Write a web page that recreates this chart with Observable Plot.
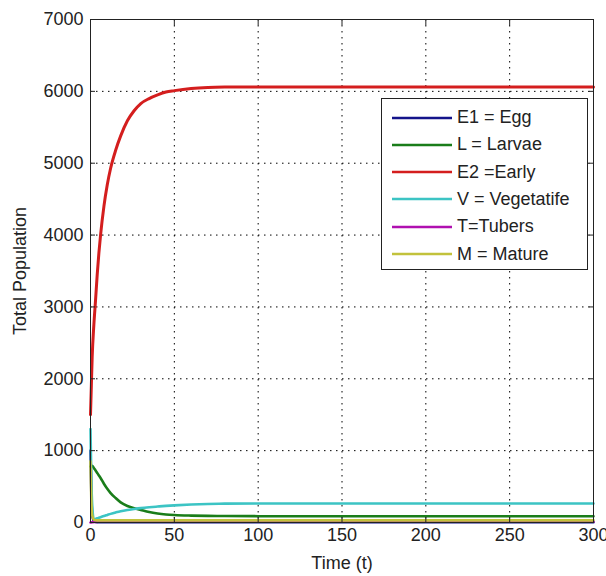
<!DOCTYPE html>
<html>
<head>
<meta charset="utf-8">
<script src="https://cdn.jsdelivr.net/npm/d3@7"></script>
<script src="https://cdn.jsdelivr.net/npm/@observablehq/plot@0.6"></script>
<style>
  html, body { margin: 0; padding: 0; background: #fff; }
  #wrap { position: relative; width: 606px; height: 576px; font-family: "Liberation Sans", Arial, sans-serif; }
  #legend { position: absolute; left: 381px; top: 98px; width: 205px; height: 170px; border: 1px solid #222; background: #fff; box-sizing: content-box; }
  .item { position: absolute; left: 10px; height: 27px; display: flex; align-items: center; font-size: 18px; color: #222; white-space: nowrap; }
  .item svg { margin-right: 5px; }
</style>
</head>
<body>
<div id="wrap"><div id="legend"></div></div>
<script>
// ---- data ----
const time = [0, 0.5, 1, 2, 3, 4, 5, 6, 8, 10, 12, 15, 18, 22, 26, 30, 35, 40, 45, 50, 60, 70, 80, 100, 150, 200, 250, 300];
const E1 = [1000, 400, 120, 20, 6, 5, 5, 5, 5, 5, 5, 5, 5, 5, 5, 5, 5, 5, 5, 5, 5, 5, 5, 5, 5, 5, 5, 5];
const L  = [780, 790, 790, 760, 725, 690, 655, 620, 540, 470, 410, 340, 280, 230, 200, 175, 145, 125, 112, 104, 96, 92, 90, 88, 88, 88, 88, 88];
const E2 = [1500, 1900, 2300, 2750, 3090, 3450, 3750, 4000, 4400, 4700, 4930, 5180, 5380, 5590, 5730, 5830, 5900, 5950, 5990, 6010, 6040, 6055, 6060, 6062, 6062, 6062, 6062, 6062];
const V  = [1300, 600, 250, 40, 50, 58, 66, 74, 90, 105, 120, 140, 158, 175, 188, 200, 212, 222, 231, 238, 250, 258, 262, 265, 265, 265, 265, 265];
const T  = [0, 2, 4, 6, 8, 9, 10, 10, 10, 10, 10, 10, 10, 10, 10, 10, 10, 10, 10, 10, 10, 10, 10, 10, 10, 10, 10, 10];
const M  = [850, 300, 100, 40, 32, 30, 30, 30, 30, 30, 30, 30, 30, 30, 30, 30, 30, 30, 30, 30, 30, 30, 30, 30, 30, 30, 30, 30];
const seriesNames = ["E1 = Egg", "L = Larvae", "E2 =Early", "V = Vegetatife", "T=Tubers", "M = Mature"];
const seriesValues = [E1, L, E2, V, T, M];
const seriesColors = ["#14148a", "#1a7d1a", "#d41e1e", "#3cc4c4", "#b010b0", "#c2c23c"];
const xTicks = [0, 50, 100, 150, 200, 250, 300];
const yTicks = [0, 1000, 2000, 3000, 4000, 5000, 6000, 7000];
const xLabel = "Time (t)";
const yLabel = "Total Population";

// ---- build ----
const lineMarks = seriesValues.map((vals, i) => {
  const rows = time.map((t, j) => ({t, v: vals[j]}));
  return Plot.lineY(rows, {x: "t", y: "v", stroke: seriesColors[i], strokeWidth: i === 2 ? 3 : 2.6, curve: "monotone-x"});
});

const chart = Plot.plot({
  width: 606,
  height: 576,
  marginLeft: 90,
  marginRight: 13,
  marginTop: 19,
  marginBottom: 54,
  style: {fontFamily: "'Liberation Sans', Arial, sans-serif", fontSize: "18px", color: "#222", background: "#fff"},
  x: {domain: [0, 300]},
  y: {domain: [0, 7000]},
  marks: [
    Plot.gridX(xTicks, {stroke: "#000", strokeOpacity: 1, strokeDasharray: "1.5,4.5"}),
    Plot.gridY(yTicks, {stroke: "#000", strokeOpacity: 1, strokeDasharray: "1.5,4.5"}),
    ...lineMarks,
    Plot.axisX(xTicks, {anchor: "bottom", tickSize: -5, tickPadding: 11, tickFormat: d => String(d), label: xLabel, labelAnchor: "center", labelArrow: "none", labelOffset: 46, stroke: "#222"}),
    Plot.axisX(xTicks, {anchor: "top", tickSize: -5, tickFormat: () => "", label: null, stroke: "#222"}),
    Plot.axisY(yTicks, {anchor: "left", tickSize: -5, tickPadding: 12, tickFormat: d => String(d), label: yLabel, labelAnchor: "center", labelArrow: "none", labelOffset: 77, stroke: "#222"}),
    Plot.axisY(yTicks, {anchor: "right", tickSize: -5, tickFormat: () => "", label: null, stroke: "#222"}),
    Plot.frame({stroke: "#222"})
  ]
});
const wrap = document.getElementById("wrap");
wrap.insertBefore(chart, wrap.firstChild);

// legend
const legend = document.getElementById("legend");
seriesNames.forEach((name, i) => {
  const div = document.createElement("div");
  div.className = "item";
  div.style.top = (5 + i * 27.3) + "px";
  div.innerHTML = `<svg width="60" height="6"><line x1="0" y1="3" x2="60" y2="3" stroke="${seriesColors[i]}" stroke-width="2.6"/></svg><span>${name}</span>`;
  legend.appendChild(div);
});
</script>
</body>
</html>
